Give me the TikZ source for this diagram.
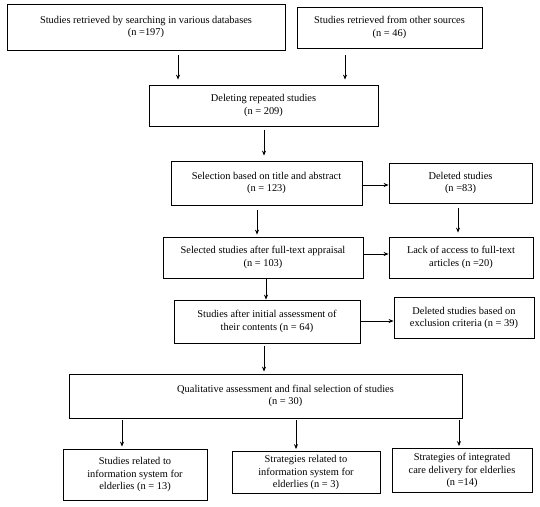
\documentclass[tikz,border=0pt]{standalone}
\usepackage{fontspec}
\setmainfont{Liberation Serif}
\usetikzlibrary{arrows.meta}
\begin{document}
\begin{tikzpicture}[x=1pt,y=-1pt,
  box/.style={draw=black, line width=0.8pt, align=center, inner sep=1pt,
    font=\fontsize{10.4}{12.2}\selectfont},
  arr/.style={draw=black, line width=0.8pt, -{Stealth[length=5pt,width=4pt]}}]
\useasboundingbox[fill=white] (0,0) rectangle (540,506);
% boxes
\node[box, minimum width=278, minimum height=46] (b1) at (146,27) {Studies retrieved by searching in various databases\\(n =197)};
\node[box, minimum width=185, minimum height=41] (b2) at (389.5,27.5) {Studies retrieved from other sources\\(n = 46)};
\node[box, minimum width=229, minimum height=41] (b3) at (263.5,105.5) {Deleting repeated studies\\(n = 209)};
\node[box, minimum width=191, minimum height=44] (b4) at (266.5,183) {Selection based on title and abstract\\(n = 123)};
\node[box, minimum width=143, minimum height=40] (b5) at (460.5,183) {Deleted studies\\(n =83)};
\node[box, minimum width=200, minimum height=41] (b6) at (263,257.5) {Selected studies after full-text appraisal\\(n = 103)};
\node[box, minimum width=144, minimum height=41] (b7) at (461,257.5) {Lack of access to full-text\\articles (n =20)};
\node[box, minimum width=186, minimum height=43] (b8) at (267,321.5) {Studies after initial assessment of\\their contents (n = 64)};
\node[box, minimum width=140, minimum height=41] (b9) at (464,318) {Deleted studies based on\\exclusion criteria (n = 39)};
\node[box, minimum width=393, minimum height=44] (b10) at (265.5,396) {\hspace*{40pt}Qualitative assessment and final selection of studies\\\hspace*{40pt}(n = 30)};
\node[box, minimum width=144, minimum height=51] (b11) at (135,474.5) {Studies related to\\information system for\\elderlies (n = 13)};
\node[box, minimum width=148, minimum height=42] (b12) at (306,472.5) {Strategies related to\\information system for\\elderlies (n = 3)};
\node[box, minimum width=140, minimum height=44] (b13) at (462,470.5) {Strategies of integrated\\care delivery for elderlies\\(n =14)};
% x positions of vertical connectors
\coordinate (xa) at (178,0);
\coordinate (xb) at (345,0);
\coordinate (xc) at (264,0);
\coordinate (xd) at (257,0);
\coordinate (xe) at (458,0);
\coordinate (xf) at (266,0);
\coordinate (xg) at (264,0);
\coordinate (xh) at (122,0);
\coordinate (xi) at (296,0);
\coordinate (xj) at (459,0);
% y positions of horizontal connectors
\coordinate (ya) at (0,185);
\coordinate (yb) at (0,254);
\coordinate (yc) at (0,321);
% connectors
\draw[arr, shorten <=5pt, shorten >=5pt] (b1.south -| xa) -- (b3.north -| xa);
\draw[arr, shorten <=7pt, shorten >=5pt] (b2.south -| xb) -- (b3.north -| xb);
\draw[arr, shorten <=4pt, shorten >=5pt] (b3.south -| xc) -- (b4.north -| xc);
\draw[arr] (b4.east |- ya) -- (b5.west |- ya);
\draw[arr, shorten <=5pt, shorten >=2pt] (b4.south -| xd) -- (b6.north -| xd);
\draw[arr, shorten <=5pt, shorten >=4pt] (b5.south -| xe) -- (b7.north -| xe);
\draw[arr] (b6.east |- yb) -- (b7.west |- yb);
\draw[arr] (b6.south -| xf) -- (b8.north -| xf);
\draw[arr] (b8.east |- yc) -- (b9.west |- yc);
\draw[arr, shorten <=3pt, shorten >=2pt] (b8.south -| xg) -- (b10.north -| xg);
\draw[arr, shorten <=2pt, shorten >=2pt] (b10.south -| xh) -- (b11.north -| xh);
\draw[arr, shorten <=2pt, shorten >=2pt] (b10.south -| xi) -- (b12.north -| xi);
\draw[arr, shorten <=2pt, shorten >=2pt] (b10.south -| xj) -- (b13.north -| xj);
\end{tikzpicture}
\end{document}
